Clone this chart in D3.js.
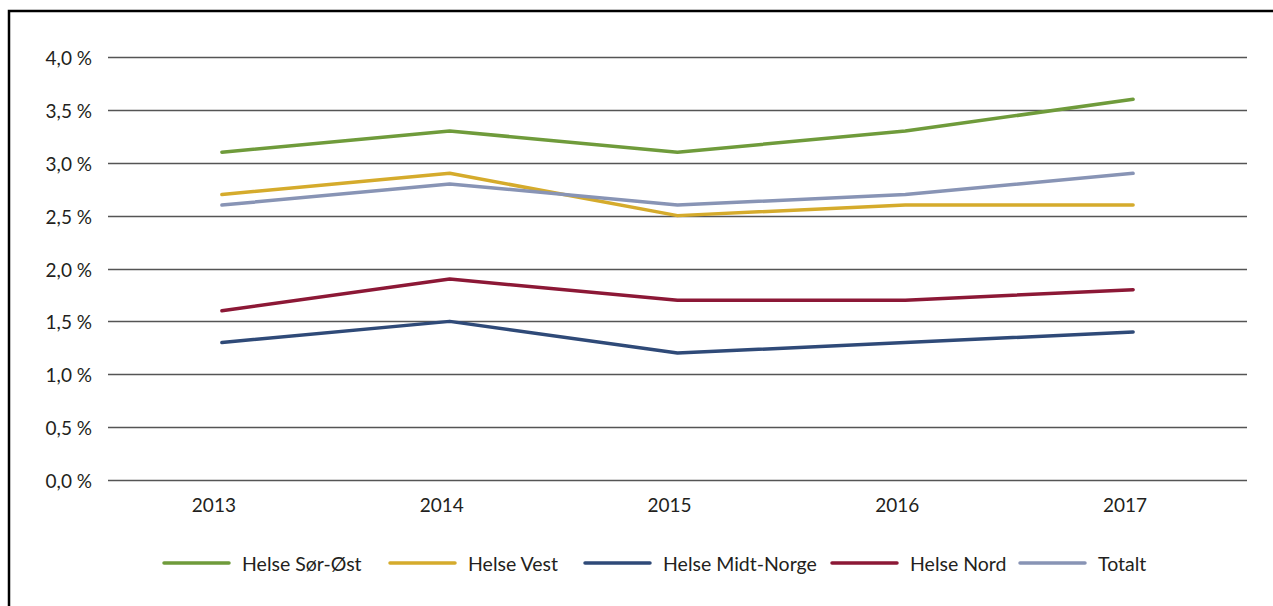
<!DOCTYPE html>
<html>
<head>
<meta charset="utf-8">
<script src="https://cdn.jsdelivr.net/npm/d3@7"></script>
<style>
  body { margin: 0; background: #fff; }
  svg text { font-family: Lato, "Open Sans", sans-serif; fill: #231f20; }
</style>
</head>
<body>
<svg id="chart" width="1273" height="606"></svg>
<script>
const years = ["2013", "2014", "2015", "2016", "2017"];
const yTicks = [0, 0.5, 1, 1.5, 2, 2.5, 3, 3.5, 4];

const sorOst = [3.1, 3.3, 3.1, 3.3, 3.6];
const vest = [2.7, 2.9, 2.5, 2.6, 2.6];
const midtNorge = [1.3, 1.5, 1.2, 1.3, 1.4];
const nord = [1.6, 1.9, 1.7, 1.7, 1.8];
const totalt = [2.6, 2.8, 2.6, 2.7, 2.9];

const seriesNames = ["Helse Sør-Øst", "Helse Vest", "Helse Midt-Norge", "Helse Nord", "Totalt"];
const seriesColors = ["#6f9b3b", "#d5ab2c", "#2f4a78", "#8c1836", "#8894b5"];

const series = [sorOst, vest, midtNorge, nord, totalt].map((values, i) => ({
  name: seriesNames[i], color: seriesColors[i], values
}));

const svg = d3.select("#chart");

// frame
svg.append("path")
   .attr("d", "M9,606 V11 H1273")
   .attr("fill", "none")
   .attr("stroke", "#000")
   .attr("stroke-width", 2.5);

const x = d3.scaleBand().domain(years).range([108, 1247]);
const y = d3.scaleLinear().domain([0, 4]).range([480, 57]);

const fmt = d => d3.format(".1f")(d).replace(".", ",") + " %";

// grid
svg.append("g")
   .selectAll("line")
   .data(yTicks)
   .enter()
   .append("line")
   .attr("x1", 108)
   .attr("x2", 1247)
   .attr("y1", d => Math.round(y(d)) + 0.5)
   .attr("y2", d => Math.round(y(d)) + 0.5)
   .attr("stroke", "#555")
   .attr("stroke-width", 1.3);

svg.append("g")
   .selectAll("text")
   .data(yTicks)
   .enter()
   .append("text")
   .attr("x", 92)
   .attr("y", d => y(d) + 8)
   .attr("text-anchor", "end")
   .style("font-size", "19px")
   .text(fmt);

svg.append("g")
   .selectAll("text")
   .data(years)
   .enter()
   .append("text")
   .attr("x", d => x(d) + x.bandwidth() / 2 - 8)
   .attr("y", 512)
   .attr("text-anchor", "middle")
   .style("font-size", "19px")
   .text(d => d);

const line = d3.line()
  .x((d, i) => x(years[i]) + x.bandwidth() / 2)
  .y(d => y(d));

svg.append("g")
   .selectAll("path")
   .data(series)
   .enter()
   .append("path")
   .attr("d", d => line(d.values))
   .attr("fill", "none")
   .attr("stroke", d => d.color)
   .attr("stroke-width", 3.5)
   .attr("stroke-linecap", "round")
   .attr("stroke-linejoin", "round");

// legend
const legendX = [164, 390, 585, 832, 1020];
const legend = svg.append("g")
   .selectAll("g")
   .data(series)
   .enter()
   .append("g")
   .attr("transform", (d, i) => "translate(" + legendX[i] + ",563)");

legend.append("line")
      .attr("x1", 0)
      .attr("x2", 65)
      .attr("stroke", d => d.color)
      .attr("stroke-width", 3.5)
      .attr("stroke-linecap", "round");

legend.append("text")
      .attr("x", 78)
      .attr("y", 8)
      .style("font-size", "19.5px")
      .text(d => d.name);
</script>
</body>
</html>
